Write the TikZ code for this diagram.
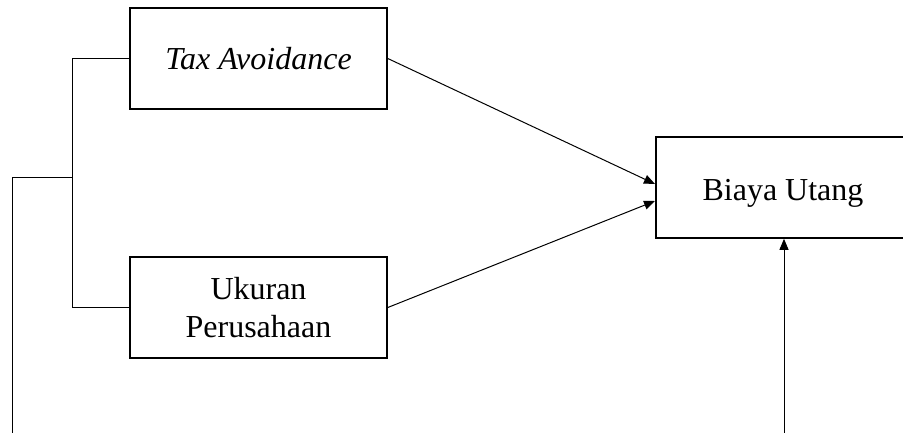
\documentclass[tikz,border=0pt]{standalone}
\usepackage{fontspec}
\setmainfont{Liberation Serif}
\usetikzlibrary{arrows.meta}
\begin{document}
\begin{tikzpicture}[x=1pt,y=-1pt,
  txt/.style={font=\fontsize{32}{38}\selectfont, align=center, inner sep=0pt},
  varbox/.style={draw, line width=1.6pt, minimum width=257pt, minimum height=101pt, inner sep=0pt, txt},
  conn/.style={line width=1pt},
  arr/.style={line width=1pt, -{Triangle[length=11pt,width=9pt]}}]
\useasboundingbox (0,0) rectangle (903,432);
\clip (0,0) rectangle (903,432);
\node[varbox] (tax) at (258.5,58.5) {\itshape Tax Avoidance};
\node[varbox] (uk) at (258.5,307.5) {Ukuran\\Perusahaan};
\node[draw, line width=1.6pt, minimum width=280pt, minimum height=101pt, inner sep=0pt, anchor=west] (bu) at (655,187.5) {};
\node[txt] (butext) at (783,193) {Biaya Utang};
\coordinate (j1) at (72,58.5);
\coordinate (j2) at (72,307.5);
\coordinate (jm) at (72,177);
\coordinate (l1) at (12,177);
\coordinate (l2) at (12,445);
\coordinate (r2) at (784,445);
\coordinate (t1) at (655,184);
\coordinate (t2) at (655,201);
\draw[conn] (tax.west) -- (j1) -- (j2) -- (uk.west);
\draw[conn] (jm) -- (l1) -- (l2);
\draw[arr] (tax.east) -- (t1);
\draw[arr] (uk.east) -- (t2);
\draw[arr] (r2) -- (bu.south -| r2);
\end{tikzpicture}
\end{document}
